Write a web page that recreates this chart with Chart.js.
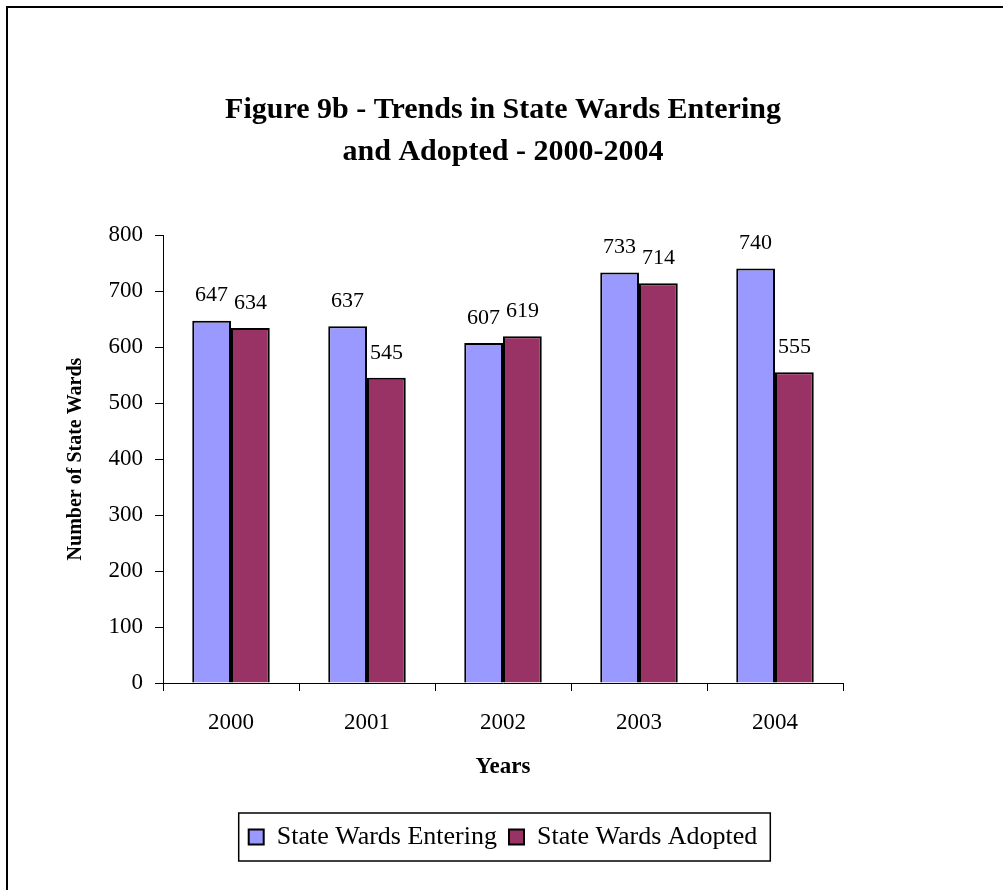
<!DOCTYPE html>
<html>
<head>
<meta charset="utf-8">
<script src="https://cdn.jsdelivr.net/npm/chart.js@4.4.1/dist/chart.umd.min.js"></script>
<style>
    html, body { margin: 0; padding: 0; background: #fff; overflow: hidden; }
    #moldura { position: absolute; left: 6px; top: 6px; width: 1100px; height: 1000px; border: 2px solid #000; }
    #caixa { position: absolute; left: 0; top: 0; width: 1003px; height: 890px; }
</style>
</head>
<body>
<div id="moldura"></div>
<div id="caixa"><canvas id="grafico" width="1003" height="890"></canvas></div>
<script>
const anos = ["2000", "2001", "2002", "2003", "2004"];
const entrando = [647, 637, 607, 733, 740];
const adotados = [634, 545, 619, 714, 555];
const ticksY = [0, 100, 200, 300, 400, 500, 600, 700, 800];

const fonte = "'Liberation Serif', 'Times New Roman', serif";

// rotulos acima das barras
const rotulos = {
    id: "rotulos",
    afterDatasetsDraw(chart) {
        const ctx = chart.ctx;
        ctx.save();
        ctx.font = "22px " + fonte;
        ctx.fillStyle = "#000";
        ctx.textAlign = "center";
        ctx.textBaseline = "middle";
        chart.data.datasets.forEach((ds, i) => {
            chart.getDatasetMeta(i).data.forEach((barra, j) => {
                ctx.fillText(ds.data[j], barra.x, barra.y - 25);
            });
        });
        ctx.restore();
    }
};

// moldura da legenda
const bordaLegenda = {
    id: "bordaLegenda",
    afterDraw(chart) {
        const caixas = chart.legend.legendHitBoxes;
        if (!caixas || !caixas.length) return;
        const esq = Math.min(...caixas.map(c => c.left)) - 10;
        const dir = Math.max(...caixas.map(c => c.left + c.width)) + 13;
        const topo = Math.min(...caixas.map(c => c.top)) - 11;
        const base = Math.max(...caixas.map(c => c.top + c.height)) + 11;
        const ctx = chart.ctx;
        ctx.save();
        ctx.strokeStyle = "#000";
        ctx.lineWidth = 1.5;
        ctx.strokeRect(esq, topo, dir - esq, base - topo);
        ctx.restore();
    }
};

const ctx = document.getElementById("grafico").getContext("2d");
new Chart(ctx, {
    type: "bar",
    data: {
        labels: anos,
        datasets: [
            {
                label: "State Wards Entering",
                data: entrando,
                backgroundColor: "#9999FF",
                borderColor: "#000",
                borderWidth: 2,
                categoryPercentage: 0.57,
                barPercentage: 1.0
            },
            {
                label: "State Wards Adopted",
                data: adotados,
                backgroundColor: "#993366",
                borderColor: "#000",
                borderWidth: 2,
                categoryPercentage: 0.57,
                barPercentage: 1.0
            }
        ]
    },
    options: {
        responsive: false,
        animation: false,
        layout: {
            padding: { left: 60, right: 160, top: 0, bottom: 30 }
        },
        plugins: {
            title: {
                display: true,
                fullSize: false,
                text: ["Figure 9b - Trends in State Wards Entering", "and Adopted - 2000-2004"],
                color: "#000",
                font: { family: fonte, size: 30, weight: "bold", lineHeight: 1.4 },
                padding: { top: 89, bottom: 62 }
            },
            legend: {
                position: "bottom",
                fullSize: false,
                labels: {
                    color: "#000",
                    boxWidth: 15,
                    boxHeight: 15,
                    padding: 12,
                    font: { family: fonte, size: 26 }
                }
            },
            tooltip: { enabled: false }
        },
        scales: {
            x: {
                offset: true,
                grid: {
                    display: true,
                    offset: true,
                    drawOnChartArea: false,
                    drawTicks: true,
                    tickLength: 8,
                    color: "#000"
                },
                border: { display: true, color: "#000", width: 1 },
                ticks: {
                    color: "#000",
                    padding: 18,
                    font: { family: fonte, size: 23 }
                },
                title: {
                    display: true,
                    text: "Years",
                    color: "#000",
                    font: { family: fonte, size: 23, weight: "bold" },
                    padding: { top: 0, bottom: 31 }
                },
                afterFit: (escala) => { escala.height = 129; }
            },
            y: {
                min: 0,
                max: 800,
                afterBuildTicks: (escala) => { escala.ticks = ticksY.map(v => ({ value: v })); },
                grid: {
                    display: true,
                    drawOnChartArea: false,
                    drawTicks: true,
                    tickLength: 8,
                    color: "#000"
                },
                border: { display: true, color: "#000", width: 1 },
                ticks: {
                    color: "#000",
                    padding: 12,
                    font: { family: fonte, size: 23 }
                },
                title: {
                    display: true,
                    text: "Number of State Wards",
                    color: "#000",
                    font: { family: fonte, size: 20, weight: "bold" },
                    padding: { top: 4, bottom: 4 }
                },
                afterFit: (escala) => { escala.width = 103; }
            }
        }
    },
    plugins: [rotulos, bordaLegenda]
});
</script>
</body>
</html>
